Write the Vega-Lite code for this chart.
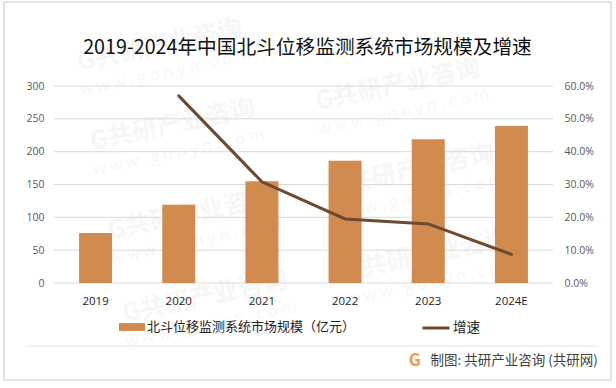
{
"$schema":"https://vega.github.io/schema/vega-lite/v6.json",
"width":607,"height":378,"autosize":"none","padding":{"left":4,"top":2,"right":5,"bottom":8},
"background":"white",
"config":{"view":{"stroke":"#d9d9d9","strokeWidth":1.5},"font":"Noto Sans CJK SC"},
"title":{"text":"2019-2024年中国北斗位移监测系统市场规模及增速","font":"Noto Sans CJK SC","fontSize":19.7,"fontWeight":"normal","color":"#111111","anchor":"middle","frame":"group","dy":60},
"datasets":{
"main":[{"year":"2019","size":76},{"year":"2020","size":119,"growth":0.57},{"year":"2021","size":155,"growth":0.308},{"year":"2022","size":186,"growth":0.195},{"year":"2023","size":219,"growth":0.18},{"year":"2024E","size":239,"growth":0.087}],
"grid":[{"g":0},{"g":50},{"g":100},{"g":150},{"g":200},{"g":250},{"g":300}],
"wm":[{"a":0.212,"b":362},{"a":0.238,"b":241},{"a":0.273,"b":105},{"a":0.303,"b":-21},{"a":0.689,"b":302},{"a":0.717,"b":172},{"a":0.747,"b":43}]
},
"resolve":{"scale":{"x":"independent","y":"independent","color":"independent"},"axis":{"x":"independent","y":"independent"}},
"layer":[
{"data":{"name":"wm"},"mark":{"type":"text","text":"G共研产业咨询","font":"Noto Sans CJK SC","fontWeight":"bold","fontSize":25,"angle":-12,"color":"#f6f6f6"},
"encoding":{"x":{"field":"a","type":"quantitative","axis":null,"scale":{"domain":[0,1],"range":[50,549],"nice":false,"zero":false}},"y":{"field":"b","type":"quantitative","axis":null,"scale":{"domain":[0,300],"range":[281,84],"nice":false,"zero":false}}}},
{"data":{"name":"wm"},"mark":{"type":"text","text":"w w w . g o n y n . c o m","font":"Open Sans","fontSize":16,"angle":-12,"color":"#f6f6f6","dy":28},
"encoding":{"x":{"field":"a","type":"quantitative","axis":null,"scale":{"domain":[0,1],"range":[50,549],"nice":false,"zero":false}},"y":{"field":"b","type":"quantitative","axis":null,"scale":{"domain":[0,300],"range":[281,84],"nice":false,"zero":false}}}},
{"data":{"name":"grid"},"mark":{"type":"rule","color":"#d9d9d9","strokeWidth":1},
"encoding":{"x":{"datum":0,"type":"quantitative","axis":null,"scale":{"domain":[0,1],"range":[50,549],"nice":false,"zero":false}},"x2":{"datum":1},"y":{"field":"g","type":"quantitative","axis":null,"scale":{"domain":[0,300],"range":[281,84],"nice":false,"zero":false}}}},
{"data":{"values":[{"d":-96}]},"mark":{"type":"rule","color":"#e4e4e4","strokeWidth":1},
"encoding":{"x":{"datum":-0.056,"type":"quantitative","axis":null,"scale":{"domain":[0,1],"range":[50,549],"nice":false,"zero":false}},"x2":{"datum":1.09},"y":{"field":"d","type":"quantitative","axis":null,"scale":{"domain":[0,300],"range":[281,84],"nice":false,"zero":false}}}},
{"data":{"name":"main"},"mark":{"type":"bar","width":33},
"encoding":{"x":{"field":"year","type":"nominal","sort":null,"scale":{"type":"band","domain":["2019","2020","2021","2022","2023","2024E"],"range":[50,549],"padding":0},"axis":{"title":null,"orient":"bottom","offset":-85,"zindex":1,"domain":false,"ticks":false,"grid":false,"labelAngle":0,"labelFont":"Open Sans","labelFontSize":11.5,"labelColor":"#222222","labelBaseline":"top","labelPadding":0}},
"y":{"field":"size","type":"quantitative","scale":{"domain":[0,300],"range":[281,84],"nice":false,"zero":false},"axis":{"title":null,"orient":"left","offset":-40,"zindex":1,"domain":false,"ticks":false,"grid":false,"values":[0,50,100,150,200,250,300],"labelFont":"Open Sans","labelFontSize":10.5,"labelColor":"#595959","labelPadding":0}},
"color":{"field":"sn","type":"nominal","scale":{"domain":["北斗位移监测系统市场规模（亿元）"],"range":["#d18b4f"]},"legend":{"title":null,"orient":"none","legendX":115,"legendY":312,"symbolType":"M-1,-0.3H1V0.3H-1Z","symbolSize":676,"symbolStrokeWidth":0,"labelFont":"Noto Sans CJK SC","labelFontSize":13,"labelLimit":0,"labelColor":"#222222","labelOffset":2,"padding":0}}},
"transform":[{"calculate":"'北斗位移监测系统市场规模（亿元）'","as":"sn"}]},
{"data":{"name":"main"},"mark":{"type":"line","strokeWidth":3,"strokeCap":"round"},
"encoding":{"x":{"field":"year","type":"nominal","sort":null,"axis":null,"scale":{"type":"band","domain":["2019","2020","2021","2022","2023","2024E"],"range":[50,549],"padding":0}},
"y":{"field":"growth","type":"quantitative","scale":{"domain":[0,0.6],"range":[281,84],"nice":false,"zero":false},"axis":{"title":null,"orient":"right","offset":-47,"zindex":1,"domain":false,"ticks":false,"grid":false,"format":".1%","values":[0,0.1,0.2,0.3,0.4,0.5,0.6],"labelFont":"Open Sans","labelFontSize":10.5,"labelColor":"#595959","labelPadding":0}},
"color":{"field":"sn","type":"nominal","scale":{"domain":["增速"],"range":["#6b4a2f"]},"legend":{"title":null,"orient":"none","legendX":417,"legendY":311,"symbolType":"M-1,0H1","symbolSize":729,"symbolStrokeWidth":3,"labelFont":"Noto Sans CJK SC","labelFontSize":13.5,"labelLimit":0,"labelColor":"#222222","labelOffset":2,"padding":0}}},
"transform":[{"calculate":"'增速'","as":"sn"}]},
{"data":{"values":[{"t":"制图: 共研产业咨询 (共研网)"}]},"mark":{"type":"text","align":"right","font":"Noto Sans CJK SC","fontSize":13.5,"color":"#404040"},
"encoding":{"text":{"field":"t"},"x":{"datum":1.09,"type":"quantitative","axis":null,"scale":{"domain":[0,1],"range":[50,549],"nice":false,"zero":false}},"y":{"datum":-119,"type":"quantitative","axis":null,"scale":{"domain":[0,300],"range":[281,84],"nice":false,"zero":false}}}},
{"data":{"values":[{"t":"G"}]},"mark":{"type":"text","font":"Noto Sans CJK SC","fontWeight":"bold","fontSize":17,"color":"#ef9a50"},
"encoding":{"text":{"field":"t"},"x":{"datum":0.723,"type":"quantitative","axis":null,"scale":{"domain":[0,1],"range":[50,549],"nice":false,"zero":false}},"y":{"datum":-119,"type":"quantitative","axis":null,"scale":{"domain":[0,300],"range":[281,84],"nice":false,"zero":false}}}}
]
}
